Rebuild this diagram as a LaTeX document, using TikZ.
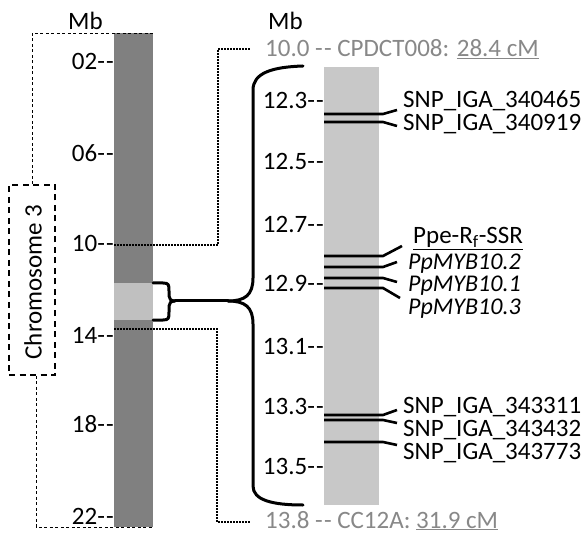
\documentclass[tikz,border=0pt]{standalone}
\usepackage{fontspec}
\setmainfont{Carlito}
\definecolor{bardark}{HTML}{808080}
\definecolor{barlight}{HTML}{C0C0C0}
\definecolor{rbarcol}{HTML}{C8C8C8}
\definecolor{graytxt}{HTML}{888888}
\newcommand{\dd}{\mbox{-}\kern1.2pt\mbox{-}}
\begin{document}
\begin{tikzpicture}[x=1pt,y=-1pt,
  font=\fontsize{25}{28}\selectfont,
  tick/.style={inner sep=0pt, anchor=base east},
  mk/.style={inner sep=0pt, anchor=base west},
  tight/.style={font=\fontsize{24}{26}\selectfont\itshape},
  marker/.style={line width=2.6pt},
  brace/.style={line width=3pt, line cap=round, line join=round},
  dotl/.style={line width=1.5pt, dash pattern=on 1.5pt off 1.5pt},
  dashl/.style={line width=0.9pt, dash pattern=on 3pt off 2.5pt},
  boxd/.style={draw, line width=1.8pt, dash pattern=on 6pt off 4.5pt},
  barbox/.style={inner sep=0pt, outer sep=0pt, draw=none}
]
\useasboundingbox (0,0) rectangle (583,534);

% bars
\node[barbox, fill=bardark, minimum width=39pt, minimum height=494pt] (bar) at (133.5,280) {};
\node[barbox, fill=barlight, minimum width=39pt, minimum height=37pt] (seg) at (133.5,301.5) {};
\node[barbox, fill=rbarcol, minimum width=55pt, minimum height=438pt] (rbar) at (351.5,286) {};

% chromosome box
\node[boxd, minimum width=46pt, minimum height=190pt, inner sep=0pt] (chr) at (32,280) {};
\node[rotate=90, inner sep=0pt] (chrtxt) at (33,282) {Chromosome 3};
\draw[dashl] (chr.north) |- (bar.north east);
\draw[dashl] ([xshift=4pt]chr.south) |- (bar.south east);

% Mb headers
\node[mk] (mbl) at (68,30) {Mb};
\node[mk] (mbr) at (268,30) {Mb};

% left ticks
\node[tick] (t02) at (114,70) {02\dd};
\node[tick] (t06) at (114,162) {06\dd};
\node[tick] (t10) at (114,252) {10\dd};
\node[tick] (t14) at (114,343) {14\dd};
\node[tick] (t18) at (114,432) {18\dd};
\node[tick] (t22) at (114,524) {22\dd};

% right ticks
\node[tick] (r123) at (324,109) {12.3\dd};
\node[tick] (r125) at (324,170) {12.5\dd};
\node[tick] (r127) at (324,233) {12.7\dd};
\node[tick] (r129) at (324,292) {12.9\dd};
\node[tick] (r131) at (324,354) {13.1\dd};
\node[tick] (r133) at (324,414) {13.3\dd};
\node[tick] (r135) at (324,474) {13.5\dd};

% gray flanking labels
\node[mk, text=graytxt] (topl) at (265,57) {10.0 \dd\ CPDCT008: \underline{28.4 cM}};
\node[mk, text=graytxt] (botl) at (265,528) {13.8 \dd\ CC12A: \underline{31.9 cM}};

% dotted connectors
\draw[dotl] (bar.west |- 0,245) -| (218,49) -- ([xshift=-15pt]topl.west |- 0,49);
\draw[dotl] (bar.west |- 0,329) -| (217,522) -- ([xshift=-15pt]botl.west |- 0,522);

% small bracket
\draw[brace] (seg.north east) -- (163,283) .. controls (169,283) and (169,285) .. (169,291) -- (169,296) .. controls (169,299) and (171,301) .. (175,301);
\draw[brace] (seg.south east) -- (163,320) .. controls (169,320) and (169,318) .. (169,312) -- (169,306) .. controls (169,303) and (171,301) .. (175,301);
\coordinate (split) at (228,301);
\draw[brace] (175,301) -- (split);
% big brace
\draw[brace] (split) .. controls (245,301) and (253,295) .. (253,278) -- (253,90) .. controls (253,73) and (272,67) .. (303,66);
\draw[brace] (split) .. controls (245,301) and (253,307) .. (253,324) -- (253,486) .. controls (253,500) and (272,505) .. (303,505);

% marker labels
\node[mk] (s1) at (403,108) {SNP\_IGA\_340465};
\node[mk] (s2) at (403,131) {SNP\_IGA\_340919};
\node[mk] (pp) at (413,244) {\underline{Ppe-R\textsubscript{f}-SSR}};
\node[mk, tight] (m2) at (408,270) {PpMYB10.2};
\node[mk, tight] (m1) at (408,292) {PpMYB10.1};
\node[mk, tight] (m3) at (408,314) {PpMYB10.3};
\node[mk] (s3) at (403,413) {SNP\_IGA\_343311};
\node[mk] (s4) at (403,436) {SNP\_IGA\_343432};
\node[mk] (s5) at (403,459) {SNP\_IGA\_343773};

% marker lines
\draw[marker] (rbar.west |- 0,114) -- (383,114) -- (397,110);
\draw[marker] (rbar.west |- 0,122) -- (383,122) -- (397,126);
\draw[marker] (rbar.west |- 0,256) -- (383,256) -- (402,246);
\draw[marker] (rbar.west |- 0,267) -- (383,267) -- (397,262);
\draw[marker] (rbar.west |- 0,278) -- (383,278) -- (397,282);
\draw[marker] (rbar.west |- 0,288) -- (383,288) -- (400,298);
\draw[marker] (rbar.west |- 0,415) -- (383,415) -- (397,410);
\draw[marker] (rbar.west |- 0,420) -- (383,420) -- (397,423);
\draw[marker] (rbar.west |- 0,442) -- (383,442) -- (397,445);
\end{tikzpicture}
\end{document}
